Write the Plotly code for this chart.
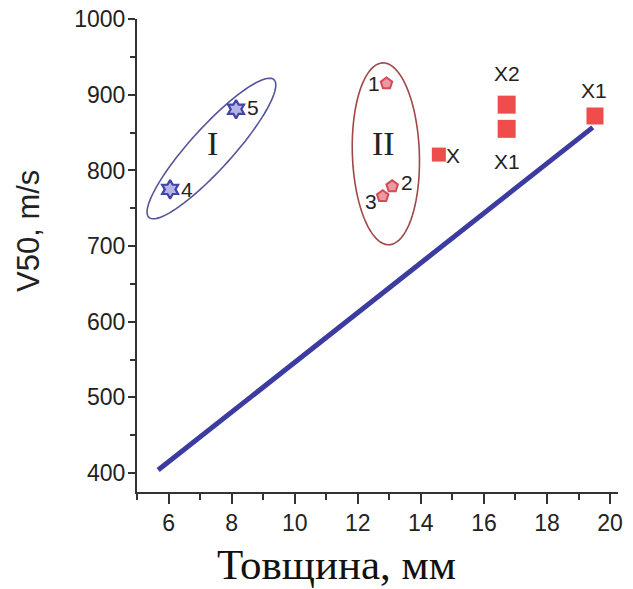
import numpy as np
import plotly.graph_objects as go

# ---- data ----
star_x = [6.05, 8.14]
star_y = [775, 881]
star_labels = ["4", "5"]

pent_x = [12.91, 13.09, 12.79]
pent_y = [915, 779, 766]
pent_labels = ["1", "2", "3"]

sq_x = [14.57, 16.72, 16.72, 19.52]
sq_y = [821, 887, 855, 872]
sq_labels = ["X", "X2", "X1", "X1"]
sq_sizes = [14, 18, 18, 17]

line_x = [5.67, 19.45]
line_y = [404, 857]

x_ticks = [6, 8, 10, 12, 14, 16, 18, 20]
y_ticks = [400, 500, 600, 700, 800, 900, 1000]

XR = [5, 20.25]
YR = [375, 1000.2]

# plot-area geometry (px, page body margin removed below)
W, H = 633, 589
L, T, R, B = 137, 19, 15, 97
pw, ph = W - L - R, H - T - B
px_x = pw / (XR[1] - XR[0])
px_y = ph / (YR[1] - YR[0])


def ellipse_path(cx, cy, a_px, b_px, ang_deg, n=90):
    t = np.linspace(0, 2 * np.pi, n)
    ang = np.deg2rad(ang_deg)
    u = a_px * np.cos(t)
    v = b_px * np.sin(t)
    dx = u * np.cos(ang) - v * np.sin(ang)
    dy = u * np.sin(ang) + v * np.cos(ang)
    xs = cx + dx / px_x
    ys = cy + dy / px_y
    p = "M %.4f,%.4f " % (xs[0], ys[0])
    p += " ".join("L %.4f,%.4f" % (a, b) for a, b in zip(xs[1:], ys[1:]))
    return p + " Z"


fig = go.Figure()

fig.add_trace(go.Scatter(x=line_x, y=line_y, mode="lines",
                         line=dict(color="#3b3ba0", width=5), hoverinfo="skip"))

fig.add_trace(go.Scatter(x=star_x, y=star_y, mode="markers",
                         marker=dict(symbol="hexagram", size=14, color="#b4b4e6",
                                     line=dict(color="#4343a6", width=2.2))))
fig.add_trace(go.Scatter(x=pent_x, y=pent_y, mode="markers",
                         marker=dict(symbol="pentagon", size=12, color="#ec9aa0",
                                     line=dict(color="#d44a5a", width=2))))
fig.add_trace(go.Scatter(x=sq_x, y=sq_y, mode="markers",
                         marker=dict(symbol="square", size=sq_sizes, color="#e80000",
                                     line=dict(width=0))))

shapes = [
    dict(type="path", xref="x", yref="y",
         path=ellipse_path(7.36, 829, 93, 21, 47.8),
         line=dict(color="#55559a", width=1.6), layer="below"),
    dict(type="path", xref="x", yref="y",
         path=ellipse_path(12.89, 822, 91, 33.5, 92),
         line=dict(color="#a04848", width=1.6), layer="below"),
]

lab_font = dict(family="Liberation Sans, Arial", size=21, color="#222")
annotations = []
star_off = [(17, 0), (17, -2)]
for x, y, t, (dx, dy) in zip(star_x, star_y, star_labels, star_off):
    annotations.append(dict(x=x, y=y, text=t, showarrow=False, xshift=dx, yshift=-dy, font=lab_font))
pent_off = [(-12, 0), (15, -4), (-12, 5)]
for x, y, t, (dx, dy) in zip(pent_x, pent_y, pent_labels, pent_off):
    annotations.append(dict(x=x, y=y, text=t, showarrow=False, xshift=dx, yshift=-dy, font=lab_font))
sq_off = [(14, 1), (0, -31), (0, 33), (-1, -25)]
for x, y, t, (dx, dy) in zip(sq_x, sq_y, sq_labels, sq_off):
    annotations.append(dict(x=x, y=y, text=t, showarrow=False, xshift=dx, yshift=-dy, font=lab_font))

roman_font = dict(family="Liberation Serif, Times New Roman", size=34, color="#222")
annotations.append(dict(x=7.4, y=836, text="I", showarrow=False, font=roman_font))
annotations.append(dict(x=12.8, y=836, text="II", showarrow=False, font=roman_font))

# axis titles (window positions converted to paper coords)
annotations.append(dict(xref="paper", yref="paper", x=(29 - L) / pw, y=(T + ph - 231) / ph,
                        text="V50, m/s", textangle=-90, showarrow=False,
                        xanchor="center", yanchor="middle",
                        font=dict(family="Liberation Sans, Arial", size=31, color="#222")))
annotations.append(dict(xref="paper", yref="paper", x=(336 - L) / pw, y=(T + ph - 564) / ph,
                        text="Товщина, мм", showarrow=False,
                        xanchor="center", yanchor="middle",
                        font=dict(family="Liberation Serif, Times New Roman", size=43, color="#111")))

tick_font = dict(family="Liberation Sans, Arial", size=23, color="#222")
fig.update_layout(
    width=W, height=H,
    margin=dict(l=L, r=R, t=T, b=B, autoexpand=False),
    plot_bgcolor="white", paper_bgcolor="white",
    showlegend=False,
    shapes=shapes,
    annotations=annotations,
    xaxis=dict(range=XR, tickvals=x_ticks, ticktext=[str(v) for v in x_ticks],
               showgrid=False, zeroline=False, showline=True, linecolor="#333", linewidth=2,
               ticks="outside", ticklen=10, tickwidth=2, tickcolor="#333",
               minor=dict(dtick=1, tick0=0, ticks="outside", ticklen=6, tickwidth=2, tickcolor="#333"),
               tickfont=tick_font, ticklabelstandoff=-1, ticklabeloverflow="allow",
               automargin=False),
    yaxis=dict(range=YR, tickvals=y_ticks, ticktext=[str(v) for v in y_ticks],
               showgrid=False, zeroline=False, showline=True, linecolor="#333", linewidth=2,
               ticks="outside", ticklen=7, tickwidth=2, tickcolor="#333",
               minor=dict(dtick=50, tick0=0, ticks="outside", ticklen=5, tickwidth=2, tickcolor="#333"),
               tickfont=tick_font, ticklabelstandoff=-2, ticklabeloverflow="allow",
               automargin=False),
)

fig.write_html("out.html",
               config={"displayModeBar": False},
               post_script="document.body.style.margin='0';document.body.style.overflow='hidden';")
